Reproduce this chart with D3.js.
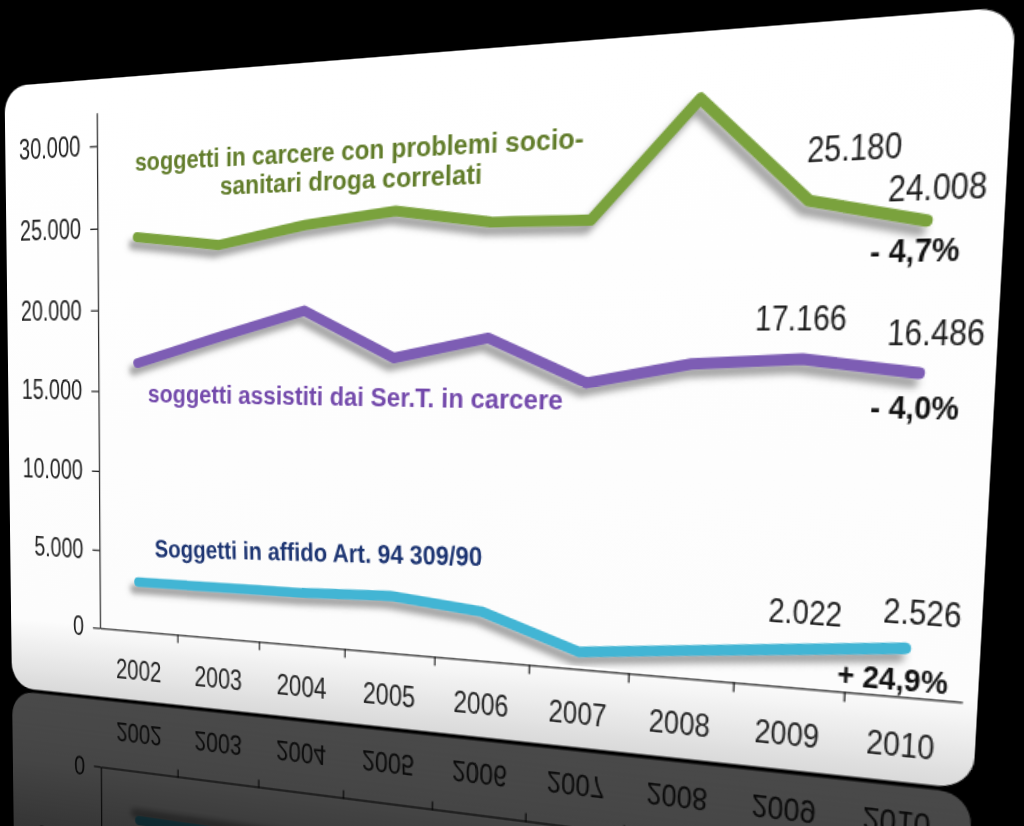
<!DOCTYPE html>
<html>
<head>
<meta charset="utf-8">
<script src="https://cdn.jsdelivr.net/npm/d3@7"></script>
<style>
  html, body { margin: 0; padding: 0; background: #000; width: 1024px; height: 826px; overflow: hidden; }
  #chart { position: absolute; left: 0; top: 0; transform-origin: 0 0; overflow: visible; }
</style>
</head>
<body>
<svg id="chart"></svg>
<script>
var years = ['2002', '2003', '2004', '2005', '2006', '2007', '2008', '2009', '2010'];
var carcere = [24410, 23790, 24800, 25420, 24630, 24560, 30600, 25180, 24008];
var serT = [16750, 18340, 19860, 17130, 18260, 15820, 16880, 17166, 16486];
var affido = [3120, 3140, 3170, 3360, 2815, 960, 1500, 2022, 2526];
var yTicks = [0, 5000, 10000, 15000, 20000, 25000, 30000];

var it = d3.formatLocale({decimal: ',', thousands: '.', grouping: [3], currency: ['', ' €']});
var fmt = it.format(',d');
function pct(a, b) {
  var p = (b / a - 1) * 100;
  return (p < 0 ? '- ' : '+ ') + Math.abs(p).toFixed(1).replace('.', ',') + '%';
}

// flat layout (before the perspective warp)
var CW = 76, PW = CW * years.length;
var PH = 426.67;               // 0 .. 32.000
var cardX = 10, cardY = 10, cardW = 785, cardH = 512.4;
var mL = 101.2, mT = 36.7;
var cardBottom = cardY + cardH;
var W = 810, H = 740;
var TALL = 1.16;               // text in the picture is drawn a bit taller than wide

var x = d3.scaleBand().domain(years).range([0, PW]);
var u = d3.scaleLinear().domain([0, years.length]).range([0, PW]);
var y = d3.scaleLinear().domain([0, 32000]).range([PH, 0]);

// homography: flat plot corners -> picture
function homography(src, dst) {
  var A = [], B = [];
  for (var i = 0; i < 4; i++) {
    var sx = src[i][0], sy = src[i][1], X = dst[i][0], Y = dst[i][1];
    A.push([sx, sy, 1, 0, 0, 0, -X * sx, -X * sy]); B.push(X);
    A.push([0, 0, 0, sx, sy, 1, -Y * sx, -Y * sy]); B.push(Y);
  }
  var n = 8;
  for (var c = 0; c < n; c++) {
    var p = c;
    for (var r = c + 1; r < n; r++) if (Math.abs(A[r][c]) > Math.abs(A[p][c])) p = r;
    var t = A[c]; A[c] = A[p]; A[p] = t;
    t = B[c]; B[c] = B[p]; B[p] = t;
    for (r = c + 1; r < n; r++) {
      var f = A[r][c] / A[c][c];
      for (var k = c; k < n; k++) A[r][k] -= f * A[c][k];
      B[r] -= f * B[c];
    }
  }
  var h = new Array(n);
  for (var r2 = n - 1; r2 >= 0; r2--) {
    var s = B[r2];
    for (var k2 = r2 + 1; k2 < n; k2++) s -= A[r2][k2] * h[k2];
    h[r2] = s / A[r2][r2];
  }
  return h;
}

var src = [
  [mL, mT + y(0)], [mL, mT + y(30000)],
  [mL + u(9), mT + y(0)], [mL + u(9), mT + y(30000)]
];
var dst = [[100, 628], [97, 146], [962, 702], [995, 93]];
var hm = homography(src, dst);
var m3d = [hm[0], hm[3], 0, hm[6], hm[1], hm[4], 0, hm[7], 0, 0, 1, 0, hm[2], hm[5], 0, 1];

// keep the width of a text, make its glyphs taller
function tall(sel) {
  sel.each(function () {
    var t = d3.select(this);
    var w = this.getComputedTextLength();
    var fs = parseFloat(t.attr('font-size') || window.getComputedStyle(this).fontSize);
    t.attr('font-size', fs * TALL)
      .attr('textLength', w)
      .attr('lengthAdjust', 'spacingAndGlyphs');
  });
}

var svg = d3.select('#chart')
  .attr('width', W)
  .attr('height', H)
  .style('transform', 'matrix3d(' + m3d.join(',') + ')');

var defs = svg.append('defs');

var shadow = defs.append('filter').attr('id', 'shadow')
  .attr('x', '-10%').attr('y', '-30%').attr('width', '120%').attr('height', '160%');
shadow.append('feDropShadow')
  .attr('dx', -4).attr('dy', 6).attr('stdDeviation', 2.4)
  .attr('flood-color', '#666').attr('flood-opacity', 0.6);

var cardFill = defs.append('linearGradient').attr('id', 'cardFill')
  .attr('x1', 0).attr('y1', 0).attr('x2', 0).attr('y2', 1);
cardFill.append('stop').attr('offset', '0%').attr('stop-color', '#ffffff');
cardFill.append('stop').attr('offset', '88%').attr('stop-color', '#fcfcfc');
cardFill.append('stop').attr('offset', '100%').attr('stop-color', '#d9d9d9');

var fade = defs.append('linearGradient').attr('id', 'fade')
  .attr('gradientUnits', 'userSpaceOnUse')
  .attr('x1', 0).attr('y1', cardBottom).attr('x2', 0).attr('y2', cardBottom + 210);
fade.append('stop').attr('offset', '0%').attr('stop-color', '#fff').attr('stop-opacity', 0.34);
fade.append('stop').attr('offset', '100%').attr('stop-color', '#fff').attr('stop-opacity', 0.12);

defs.append('mask').attr('id', 'reflMask')
  .append('rect')
  .attr('x', 0).attr('y', cardBottom).attr('width', W).attr('height', H - cardBottom)
  .attr('fill', 'url(#fade)');

// Card
var card = svg.append('g').attr('id', 'card');

card.append('rect')
  .attr('x', cardX).attr('y', cardY)
  .attr('width', cardW).attr('height', cardH)
  .attr('rx', 22)
  .attr('fill', 'url(#cardFill)');

var g = card.append('g').attr('transform', 'translate(' + mL + ',' + mT + ')');

// Y axis
var yAxis = g.append('g')
  .call(d3.axisLeft(y).tickValues(yTicks).tickFormat(fmt).tickSize(7).tickSizeOuter(0).tickPadding(9));
yAxis.attr('font-family', '"Liberation Sans", Arial, sans-serif').attr('font-size', null);
yAxis.selectAll('text').attr('fill', '#222').attr('font-size', 20).call(tall);

// X axis
var xAxis = g.append('g')
  .attr('transform', 'translate(0,' + y(0) + ')')
  .call(d3.axisBottom(x).tickSize(0).tickSizeOuter(0).tickPadding(25));
xAxis.attr('font-family', '"Liberation Sans", Arial, sans-serif').attr('font-size', null);
xAxis.selectAll('text').attr('fill', '#222').attr('font-size', 20).call(tall);
xAxis.selectAll('.sep')
  .data(years.slice(1))
  .enter()
  .append('line')
  .attr('class', 'sep')
  .attr('x1', function (d) { return x(d); })
  .attr('x2', function (d) { return x(d); })
  .attr('y1', 0)
  .attr('y2', 7)
  .attr('stroke', '#000');

// Lines
var series = [
  {values: carcere, color: '#7aa23c'},
  {values: serT, color: '#7d5db4'},
  {values: affido, color: '#43b5d4'}
];

var line = d3.line()
  .x(function (d, i) { return x(years[i]) + x.bandwidth() / 2; })
  .y(function (d) { return y(d); });

g.selectAll('path.series')
  .data(series)
  .enter()
  .append('path')
  .attr('class', 'series')
  .attr('d', function (d) { return line(d.values); })
  .attr('fill', 'none')
  .attr('stroke', function (d) { return d.color; })
  .attr('stroke-width', 8)
  .attr('stroke-linejoin', 'round')
  .attr('stroke-linecap', 'round')
  .attr('filter', 'url(#shadow)');

// Series names
var names = [
  {text: 'soggetti in carcere con problemi socio-', u: 0.477, v: 28350, len: 375, rot: 0, color: '#617c2a'},
  {text: 'sanitari droga correlati', u: 1.51, v: 26750, len: 220, rot: 0, color: '#617c2a'},
  {text: 'soggetti assistiti dai Ser.T. in carcere', u: 0.63, v: 14370, len: 353, rot: 0, color: '#7349ab'},
  {text: 'Soggetti in affido Art. 94 309/90', u: 0.713, v: 4770, len: 287, rot: -1.8, color: '#1d3572'}
];

g.selectAll('text.name')
  .data(names)
  .enter()
  .append('text')
  .attr('class', 'name')
  .text(function (d) { return d.text; })
  .attr('x', function (d) { return u(d.u); })
  .attr('y', function (d) { return y(d.v); })
  .attr('transform', function (d) { return 'rotate(' + d.rot + ',' + u(d.u) + ',' + y(d.v) + ')'; })
  .attr('textLength', function (d) { return d.len; })
  .attr('lengthAdjust', 'spacingAndGlyphs')
  .attr('font-family', '"Liberation Sans Narrow", "Liberation Sans", Arial, sans-serif')
  .attr('font-weight', 'bold')
  .attr('font-size', 20.5)
  .attr('fill', function (d) { return d.color; });

// Values and changes
var notes = [
  {text: fmt(carcere[7]), u: 7.467, v: 27120, bold: false},
  {text: fmt(carcere[8]), u: 8.173, v: 24980, bold: false},
  {text: pct(carcere[7], carcere[8]), u: 8.045, v: 21990, bold: true},
  {text: fmt(serT[7]), u: 7.067, v: 18660, bold: false},
  {text: fmt(serT[8]), u: 8.221, v: 17890, bold: false},
  {text: pct(serT[7], serT[8]), u: 8.107, v: 14210, bold: true},
  {text: fmt(affido[7]), u: 7.289, v: 3380, bold: false},
  {text: fmt(affido[8]), u: 8.301, v: 3740, bold: false},
  {text: pct(affido[7], affido[8]), u: 7.928, v: 330, bold: true}
];

g.selectAll('text.note')
  .data(notes)
  .enter()
  .append('text')
  .attr('class', 'note')
  .text(function (d) { return d.text; })
  .attr('x', function (d) { return u(d.u); })
  .attr('y', function (d) { return y(d.v); })
  .attr('font-family', '"Liberation Sans", Arial, sans-serif')
  .attr('font-weight', function (d) { return d.bold ? 'bold' : 'normal'; })
  .attr('font-size', function (d) { return d.bold ? 19.5 : 20; })
  .attr('fill', function (d) { return d.bold ? '#111' : '#1a1a1a'; })
  .call(tall);

// Reflection
svg.append('g')
  .attr('mask', 'url(#reflMask)')
  .append('use')
  .attr('href', '#card')
  .attr('transform', 'translate(0,' + (2 * cardBottom + 3) + ') scale(1,-1)');
</script>
</body>
</html>
